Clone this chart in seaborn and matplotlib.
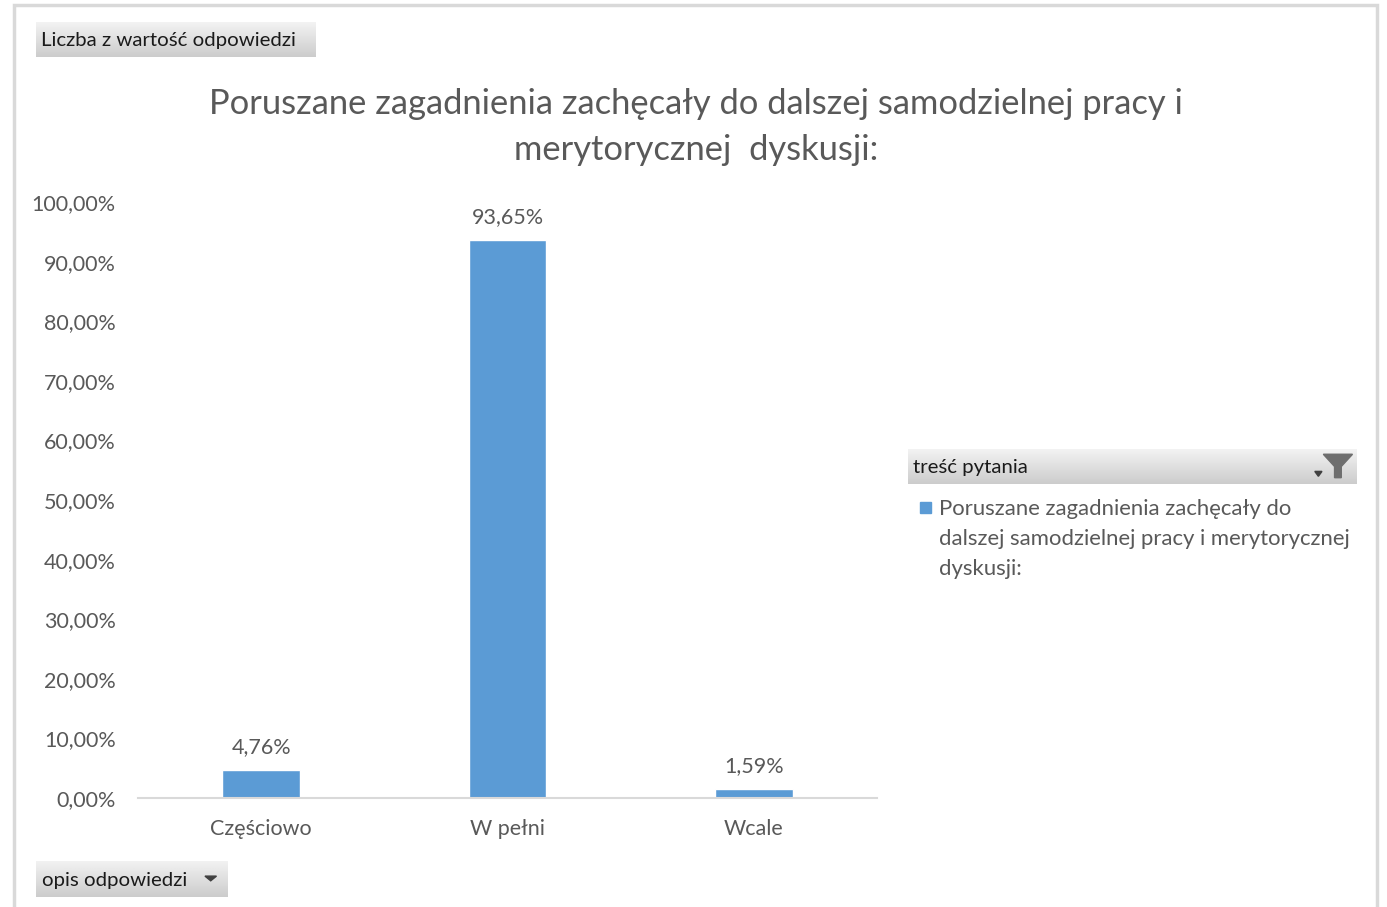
import numpy as np
import matplotlib
matplotlib.use("Agg")
import matplotlib.pyplot as plt
import seaborn as sns
import pandas as pd
from matplotlib.patches import Rectangle, Polygon
from matplotlib.ticker import FuncFormatter

categories = ["Częściowo", "W pełni", "Wcale"]
values = [4.76, 93.65, 1.59]
yticks = [0, 10, 20, 30, 40, 50, 60, 70, 80, 90, 100]
title = "Poruszane zagadnienia zachęcały do dalszej samodzielnej pracy i\nmerytorycznej  dyskusji:"
legend_title = "treść pytania"
legend_label = "Poruszane zagadnienia zachęcały do\ndalszej samodzielnej pracy i merytorycznej\ndyskusji:"
value_button = "Liczba z wartość odpowiedzi"
axis_button = "opis odpowiedzi"

sns.set_theme(style="white")
plt.rcParams['font.family'] = ['Lato', 'DejaVu Sans']

W, H = 1387, 907
fig = plt.figure(figsize=(W / 100, H / 100), dpi=100)
fig.patch.set_facecolor("white")

def fx(px):
    return px / W

def fy(py):
    return 1 - py / H

TXT = "#595959"
BAR = "#5B9BD5"
FS = 15.5

# outer frame
fig.patches.append(Rectangle((fx(14), fy(930)), fx(1377) - fx(14), fy(5) - fy(930),
                             transform=fig.transFigure, fill=False, edgecolor="#D9D9D9", lw=2.5))

df = pd.DataFrame({"cat": categories, "val": values})
ax = fig.add_axes([fx(138), fy(798), fx(877) - fx(138), fy(202) - fy(798)])
sns.barplot(data=df, x="cat", y="val", color=BAR, width=0.315, saturation=1, ax=ax)
ax.set_xlim(-0.5, 2.5)
ax.set_ylim(0, 100)
ax.set_yticks(yticks)
ax.yaxis.set_major_formatter(FuncFormatter(lambda v, p: f"{v:.2f}".replace(".", ",") + "%"))
ax.set_xlabel("")
ax.set_ylabel("")
for s in ["top", "right", "left"]:
    ax.spines[s].set_visible(False)
ax.spines["bottom"].set_color("#D9D9D9")
ax.spines["bottom"].set_linewidth(1.5)
ax.tick_params(axis="both", length=0, labelsize=FS, labelcolor=TXT)
ax.tick_params(axis="y", pad=16)
ax.tick_params(axis="x", pad=15)
ax.set_facecolor("none")
for i, v in enumerate(values):
    ax.annotate(f"{v:.2f}".replace(".", ",") + "%", (i, v), xytext=(0, 9),
                textcoords="offset points", ha="center", va="bottom", fontsize=FS, color=TXT)

# title
fig.text(fx(696), fy(127), title, ha="center", va="center", fontsize=24.8, color=TXT,
         linespacing=1.5)

def gradient_box(x0, y0, x1, y1):
    a = fig.add_axes([fx(x0), fy(y1), fx(x1) - fx(x0), fy(y0) - fy(y1)])
    grad = np.linspace(0.95, 0.80, 50).reshape(-1, 1)
    a.imshow(np.repeat(grad, 2, axis=1), cmap="gray", vmin=0, vmax=1, aspect="auto",
             extent=[0, 1, 0, 1], origin="upper")
    a.set_xlim(0, 1)
    a.set_ylim(0, 1)
    a.axis("off")
    return a

BFS = 14.7
b1 = gradient_box(36, 22, 316, 57)
b1.text(0.018, 0.47, value_button, ha="left", va="center", fontsize=BFS, color="#1A1A1A",
        transform=b1.transAxes)

b2 = gradient_box(36, 861, 228, 897)
b2.text(0.03, 0.47, axis_button, ha="left", va="center", fontsize=BFS, color="#1A1A1A",
        transform=b2.transAxes)
b2.add_patch(Polygon([[0.88, 0.58], [0.94, 0.58], [0.91, 0.45]], closed=True,
                     color="#404040", transform=b2.transAxes))

b3 = gradient_box(908, 449, 1357, 484)
b3.text(0.012, 0.47, legend_title, ha="left", va="center", fontsize=BFS, color="#1A1A1A",
        transform=b3.transAxes)
b3.add_patch(Polygon([[0.925, 0.85], [0.99, 0.85], [0.965, 0.5], [0.965, 0.18],
                      [0.95, 0.18], [0.95, 0.5]], closed=True, color="#6E6E6E",
                     transform=b3.transAxes))
b3.add_patch(Polygon([[0.906, 0.36], [0.922, 0.36], [0.914, 0.22]], closed=True,
                     color="#404040", transform=b3.transAxes))

# legend entry
fig.patches.append(Rectangle((fx(920), fy(513)), fx(931) - fx(920), fy(502) - fy(513),
                             transform=fig.transFigure, color=BAR))
fig.text(fx(939), fy(499), legend_label, ha="left", va="top", fontsize=15.9, color=TXT,
         linespacing=1.62)

fig.savefig("out.png", dpi=100)
